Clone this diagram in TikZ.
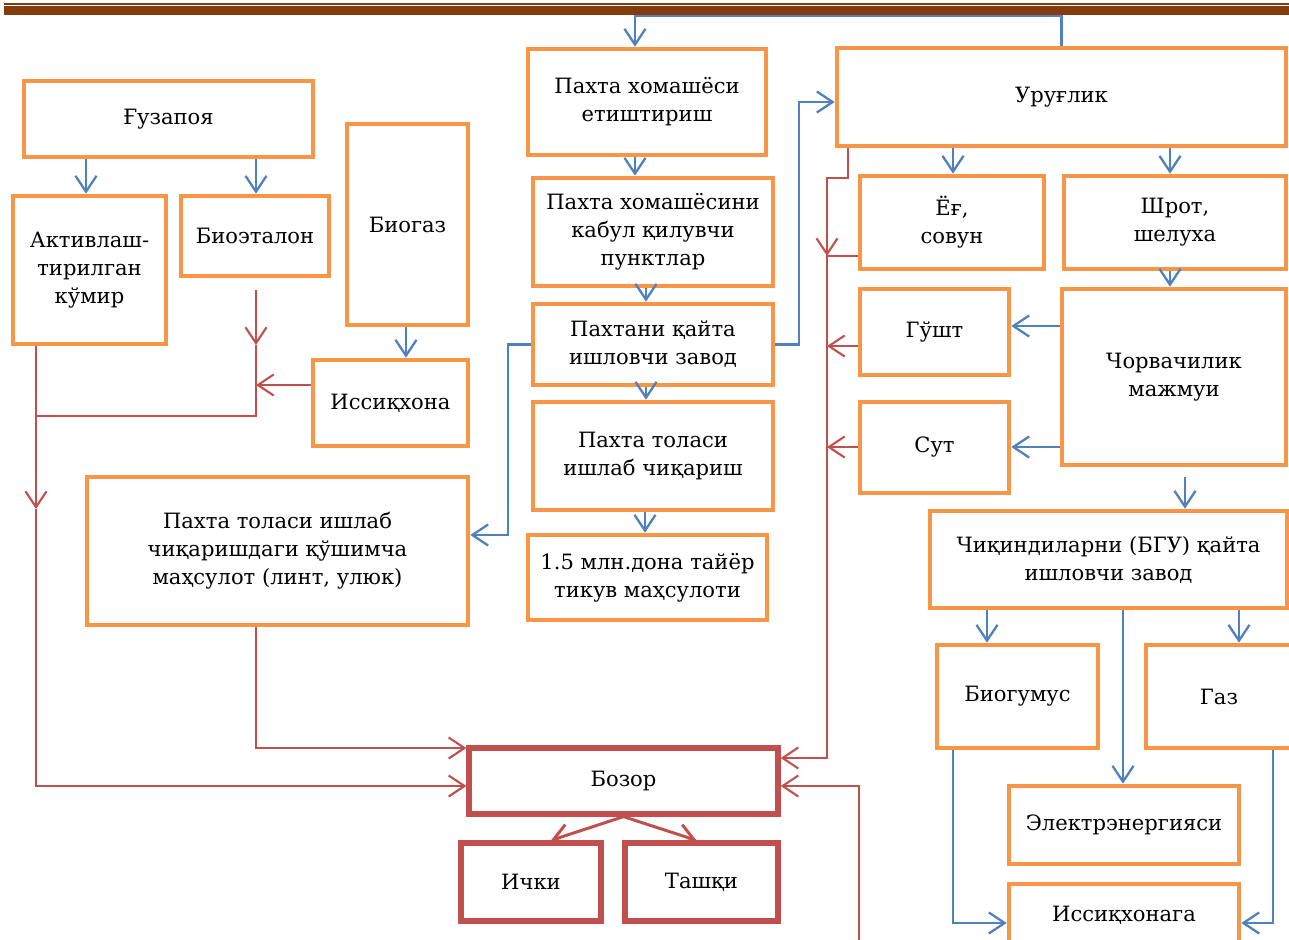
\documentclass[tikz,border=0pt]{standalone}
\usepackage{fontspec}
\setmainfont{DejaVu Serif}
\usetikzlibrary{arrows.meta,calc}
\definecolor{obox}{HTML}{F79646}
\definecolor{rline}{HTML}{C0504D}
\definecolor{bline}{HTML}{4F81BD}
\definecolor{topbar}{HTML}{843C0C}

\begin{document}
\begin{tikzpicture}[x=0.02cm,y=-0.02cm,
		box/.style={draw=obox,line width=2.6pt,align=center,inner sep=2pt,font=\fontsize{12}{16}\selectfont},
		mbox/.style={box,draw=rline,line width=3pt},
		sz/.style 2 args={minimum width=#1*0.02cm,minimum height=#2*0.02cm},
		bl/.style={bline,line width=1.3pt,-{Straight Barb[length=9pt,width=12pt]}},
		rd/.style={rline,line width=1.2pt,-{Straight Barb[length=9pt,width=12pt]}},
		rl/.style={rline,line width=1.2pt}]
		\useasboundingbox (0,0) rectangle (1289,940);
		\clip (0,0) rectangle (1289,940);
		\fill[topbar] (4,3) rectangle (1289,4.8);
		\fill[topbar] (4,6) rectangle (1289,15);
		
		% left part
		\node[box,sz={289}{76}] (guza) at (168.5,119) {Ғузапоя};
		\node[box,sz={153}{148}] (aktiv) at (89.5,270) {Активлаш-\\тирилган\\кўмир};
		\node[box,sz={148}{80}] (bioet) at (255,236) {Биоэталон};
		\node[box,sz={121}{201}] (biogaz) at (407.5,224.5) {Биогаз};
		\node[box,sz={155}{86}] (issiq) at (390.5,403) {Иссиқхона};
		\node[box,sz={381}{148}] (qoshim) at (277.5,551) {Пахта толаси ишлаб\\чиқаришдаги қўшимча\\маҳсулот (линт, улюк)};
		
		% middle column
		\node[box,sz={238}{106}] (etish) at (647,102) {Пахта хомашёси\\етиштириш};
		\node[box,sz={240}{108}] (qabul) at (653,232) {Пахта хомашёсини\\кабул қилувчи\\пунктлар};
		\node[box,sz={240}{81}] (qayta) at (653,344.5) {Пахтани қайта\\ишловчи завод};
		\node[box,sz={240}{108}] (tola) at (653,456) {Пахта толаси\\ишлаб чиқариш};
		\node[box,sz={239}{85}] (tikuv) at (647.5,577.5) {1.5 млн.дона тайёр\\тикув маҳсулоти};
		\node[mbox,sz={309}{66}] (bozor) at (623.5,781) {Бозор};
		\node[mbox,sz={140}{78}] (ichki) at (531,882) {Ички};
		\node[mbox,sz={153}{78}] (tashqi) at (701.5,882) {Ташқи};
		
		% right part
		\node[box,sz={449}{98}] (urug) at (1061.5,97) {Уруғлик};
		\node[box,sz={184}{93}] (yog) at (952,222.5) {Ёғ,\\совун};
		\node[box,sz={222}{93}] (shrot) at (1175,222.5) {Шрот,\\шелуха};
		\node[box,sz={149}{86}] (gusht) at (934.5,332) {Гўшт};
		\node[box,sz={149}{91}] (sut) at (934.5,447.5) {Сут};
		\node[box,sz={224}{176}] (chorva) at (1174,377) {Чорвачилик\\мажмуи};
		\node[box,sz={357}{97}] (chiq) at (1108.5,559.5) {Чиқиндиларни (БГУ) қайта\\ишловчи завод};
		\node[box,sz={161}{103}] (biogum) at (1017.5,696.5) {Биогумус};
		\node[box,sz={146}{103}] (gaz) at (1219,696.5) {Газ};
		\node[box,sz={230}{78}] (elektr) at (1124,825) {Электрэнергияси};
		\node[box,sz={230}{62}] (issiqga) at (1124,915) {Иссиқхонага};
		
		% blue arrows
		\draw[bl] (urug.north) |- (635,16) -- (etish.north -| 635,0);
		\draw[bl] (etish.south -| 635,0) -- (qabul.north -| 635,0);
		\draw[bl] (qabul.south -| 646,0) -- (qayta.north -| 646,0);
		\draw[bl] (qayta.south -| 646,0) -- (tola.north -| 646,0);
		\draw[bl] (tola.south -| 645,0) -- (tikuv.north -| 645,0);
		\draw[bl] (qayta.east) -| (799,102) -- (urug.west |- 0,102);
		\draw[bl] (qayta.west) -| (508,535) -- (qoshim.east |- 0,535);
		\draw[bl] (guza.south -| 86,0) -- (aktiv.north -| 86,0);
		\draw[bl] (guza.south -| 256,0) -- (bioet.north -| 256,0);
		\draw[bl] (biogaz.south -| 406,0) -- (issiq.north -| 406,0);
		\draw[bl] (urug.south -| 953,0) -- (yog.north -| 953,0);
		\draw[bl] (urug.south -| 1170,0) -- (shrot.north -| 1170,0);
		\draw[bl] (shrot.south -| 1170,0) -- (chorva.north -| 1170,0);
		\draw[bl] (chorva.west |- 0,326) -- (gusht.east |- 0,326);
		\draw[bl] (chorva.west |- 0,447) -- (sut.east |- 0,447);
		\draw[bl] ($(chorva.south -| 1185,0)+(0,10)$) -- (chiq.north -| 1185,0);
		\draw[bl] (chiq.south -| 987,0) -- (biogum.north -| 987,0);
		\draw[bl] (chiq.south -| 1239,0) -- (gaz.north -| 1239,0);
		\draw[bl] (chiq.south -| 1123,0) -- (elektr.north -| 1123,0);
		\draw[bl] (biogum.south -| 953,0) |- (issiqga.west |- 0,923);
		\draw[bl] (gaz.south -| 1273,0) |- (issiqga.east |- 0,923);
		
		% red arrows to the market
		\coordinate (jl) at (36,416);
		\coordinate (jr) at (827,256);
		\draw[rd] ($(bioet.south)+(1,12)$) -- (256,345);
		\draw[rl] (256,345) |- (jl);
		\draw[rd] (issiq.west |- 0,385) -- (256,385);
		\draw[rd] (aktiv.south -| 36,0) -- (36,509);
		\draw[rd] (36,509) |- (bozor.west |- 0,786);
		\draw[rd] (qoshim.south -| 256,0) |- (bozor.west |- 0,748);
		\draw[rd] (urug.south -| 848,0) |- (827,178) -- (jr);
		\draw[rd] (yog.west |- jr) -- (jr) |- (bozor.east |- 0,758);
		\draw[rd] (gusht.west |- 0,346) -- (827,346);
		\draw[rd] (sut.west |- 0,447) -- (827,447);
		\draw[rd] (859,940) |- (bozor.east |- 0,786);
		\draw[rd,line width=1.7pt] (bozor.south) -- ($(ichki.north)+(20,0)$);
		\draw[rd,line width=1.7pt] (bozor.south) -- ($(tashqi.north)+(-5,0)$);
		
	\end{tikzpicture}
\end{document}
